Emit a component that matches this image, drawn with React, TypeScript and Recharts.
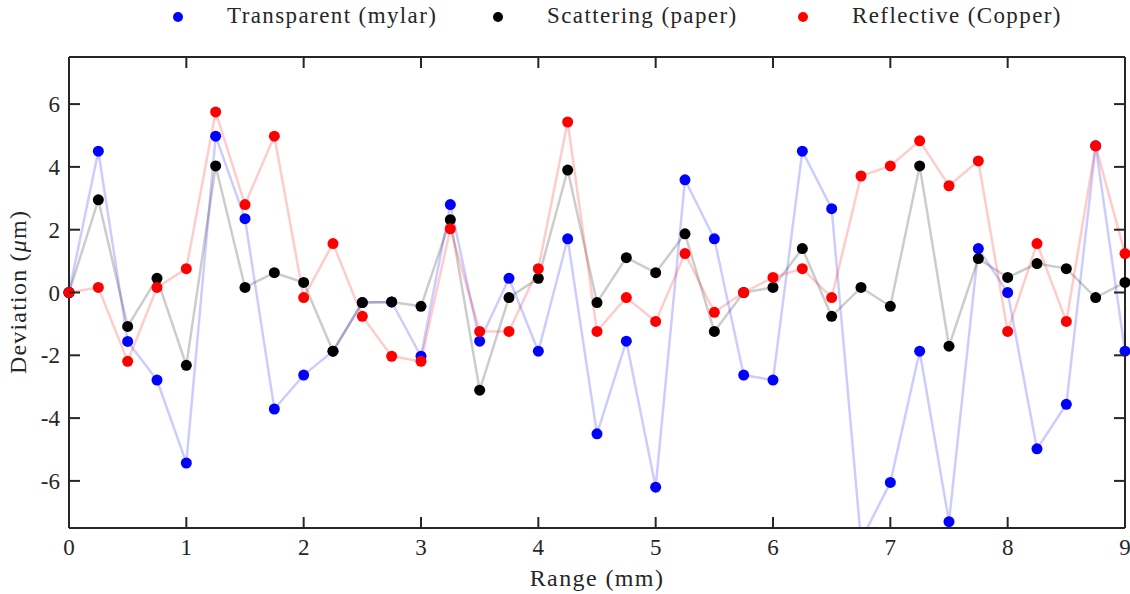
import { LineChart, Line, XAxis, YAxis, Legend } from "recharts";

const range = [
  0, 0.25, 0.5, 0.75, 1, 1.25, 1.5, 1.75, 2, 2.25, 2.5, 2.75, 3, 3.25, 3.5, 3.75, 4, 4.25, 4.5,
  4.75, 5, 5.25, 5.5, 5.75, 6, 6.25, 6.5, 6.75, 7, 7.25, 7.5, 7.75, 8, 8.25, 8.5, 8.75, 9,
];

const mylar = [
  0, 4.5, -1.56, -2.79, -5.43, 4.98, 2.35, -3.71, -2.63, -1.87, -0.32, -0.3, -2.03, 2.8, -1.55,
  0.45, -1.87, 1.71, -4.5, -1.55, -6.2, 3.59, 1.71, -2.63, -2.79, 4.5, 2.67, -7.9, -6.05, -1.87,
  -7.3, 1.4, 0, -4.98, -3.56, 4.67, -1.87,
];

const paper = [
  0, 2.95, -1.08, 0.45, -2.32, 4.03, 0.16, 0.63, 0.32, -1.87, -0.32, -0.3, -0.44, 2.32, -3.11,
  -0.16, 0.45, 3.9, -0.32, 1.11, 0.63, 1.87, -1.24, 0, 0.16, 1.4, -0.76, 0.16, -0.44, 4.03, -1.71,
  1.08, 0.48, 0.92, 0.76, -0.16, 0.32,
];

const copper = [
  0, 0.16, -2.19, 0.16, 0.76, 5.75, 2.8, 4.98, -0.16, 1.56, -0.76, -2.03, -2.19, 2.03, -1.24,
  -1.24, 0.76, 5.43, -1.24, -0.16, -0.92, 1.24, -0.63, 0, 0.48, 0.76, -0.16, 3.71, 4.03, 4.83,
  3.4, 4.19, -1.24, 1.56, -0.92, 4.67, 1.24,
];

const xTicks = [0, 1, 2, 3, 4, 5, 6, 7, 8, 9];
const yTicks = [-6, -4, -2, 0, 2, 4, 6];

const series = [
  { key: "mylar", name: "Transparent (mylar)", color: "#0000ff" },
  { key: "paper", name: "Scattering (paper)", color: "#000000" },
  { key: "copper", name: "Reflective (Copper)", color: "#ff0000" },
];

const data = range.map((r, i) => ({
  range: r,
  mylar: mylar[i],
  paper: paper[i],
  copper: copper[i],
}));

const FONT = "'Liberation Serif', 'DejaVu Serif', serif";
const AXIS = "#262626";
const TICK = 11;
const LEGEND_H = 36;

const axisLine = { stroke: AXIS, strokeWidth: 2 };

// inward tick marks drawn by hand, labels next to them
const BottomTick = (props: any) => {
  const { x, y, payload } = props;
  return (
    <g>
      <path d={`M${x},${y}V${y - TICK}`} stroke={AXIS} strokeWidth={2} fill="none" />
      <text x={x} y={y + 27} textAnchor="middle" fontFamily={FONT} fontSize={23} fill={AXIS}>
        {payload.value}
      </text>
    </g>
  );
};

const TopTick = (props: any) => {
  const { x, y } = props;
  return <path d={`M${x},${y}V${y + TICK}`} stroke={AXIS} strokeWidth={2} fill="none" />;
};

const LeftTick = (props: any) => {
  const { x, y, payload } = props;
  return (
    <g>
      <path d={`M${x},${y}H${x + TICK}`} stroke={AXIS} strokeWidth={2} fill="none" />
      <text x={x - 9} y={y + 8} textAnchor="end" fontFamily={FONT} fontSize={23} fill={AXIS}>
        {payload.value}
      </text>
    </g>
  );
};

const RightTick = (props: any) => {
  const { x, y } = props;
  return <path d={`M${x},${y}H${x - TICK}`} stroke={AXIS} strokeWidth={2} fill="none" />;
};

const legendDot = [178, 498, 803];

const renderLegend = () => (
  <div style={{ position: "relative", width: 1130, height: LEGEND_H }}>
    {series.map((s, i) => (
      <div key={s.key}>
        <span
          style={{
            position: "absolute",
            left: legendDot[i] - 5,
            top: 12,
            width: 10,
            height: 10,
            borderRadius: 5,
            background: s.color,
          }}
        />
        <span
          style={{
            position: "absolute",
            left: legendDot[i] + 49,
            top: 3,
            fontFamily: FONT,
            fontSize: 23,
            letterSpacing: 1.4,
            lineHeight: "26px",
            color: AXIS,
            whiteSpace: "nowrap",
          }}
        >
          {s.name}
        </span>
      </div>
    ))}
  </div>
);

export default function App() {
  return (
    <div style={{ position: "absolute", left: 0, top: 0, background: "#fff" }}>
      <LineChart
        width={1130}
        height={594}
        data={data}
        margin={{ top: 56 - LEGEND_H, right: 4, bottom: 0, left: 0 }}
      >
        <XAxis
          dataKey="range"
          type="number"
          domain={[0, 9]}
          ticks={xTicks}
          interval={0}
          tickSize={0}
          tickMargin={0}
          tickLine={false}
          tick={<BottomTick />}
          axisLine={axisLine}
          height={66}
          label={{
            content: () => (
              <text
                x={597}
                y={586}
                textAnchor="middle"
                fontFamily={FONT}
                fontSize={24}
                letterSpacing={1.4}
                fill={AXIS}
              >
                Range (mm)
              </text>
            ),
          }}
        />
        <XAxis
          xAxisId="top"
          orientation="top"
          dataKey="range"
          type="number"
          domain={[0, 9]}
          ticks={xTicks}
          interval={0}
          tickSize={0}
          tickMargin={0}
          tickLine={false}
          tick={<TopTick />}
          axisLine={axisLine}
          height={1}
        />
        <YAxis
          type="number"
          domain={[-7.5, 7.5]}
          ticks={yTicks}
          interval={0}
          allowDataOverflow
          tickSize={0}
          tickMargin={0}
          tickLine={false}
          tick={<LeftTick />}
          axisLine={axisLine}
          width={69}
          label={{
            content: () => (
              <text
                x={26}
                y={292}
                transform="rotate(-90 26 292)"
                textAnchor="middle"
                fontFamily={FONT}
                fontSize={24}
                letterSpacing={1.2}
                fill={AXIS}
              >
                Deviation (<tspan fontStyle="italic">μ</tspan>m)
              </text>
            ),
          }}
        />
        <YAxis
          yAxisId="right"
          orientation="right"
          type="number"
          domain={[-7.5, 7.5]}
          ticks={yTicks}
          interval={0}
          allowDataOverflow
          tickSize={0}
          tickMargin={0}
          tickLine={false}
          tick={<RightTick />}
          axisLine={axisLine}
          width={1}
        />
        <Legend verticalAlign="top" content={renderLegend} wrapperStyle={{ top: 0, left: 0 }} />
        {/* invisible series so the top and right frame axes get drawn */}
        <Line
          xAxisId="top"
          yAxisId="right"
          dataKey="paper"
          stroke="none"
          dot={false}
          activeDot={false}
          legendType="none"
          isAnimationActive={false}
        />
        {series.map((s) => (
          <Line
            key={s.key}
            dataKey={s.key}
            name={s.name}
            type="linear"
            stroke={s.color}
            strokeOpacity={0.2}
            strokeWidth={2.5}
            dot={{ r: 5.5, fill: s.color, stroke: "none", fillOpacity: 1 }}
            activeDot={false}
            isAnimationActive={false}
          />
        ))}
      </LineChart>
    </div>
  );
}
